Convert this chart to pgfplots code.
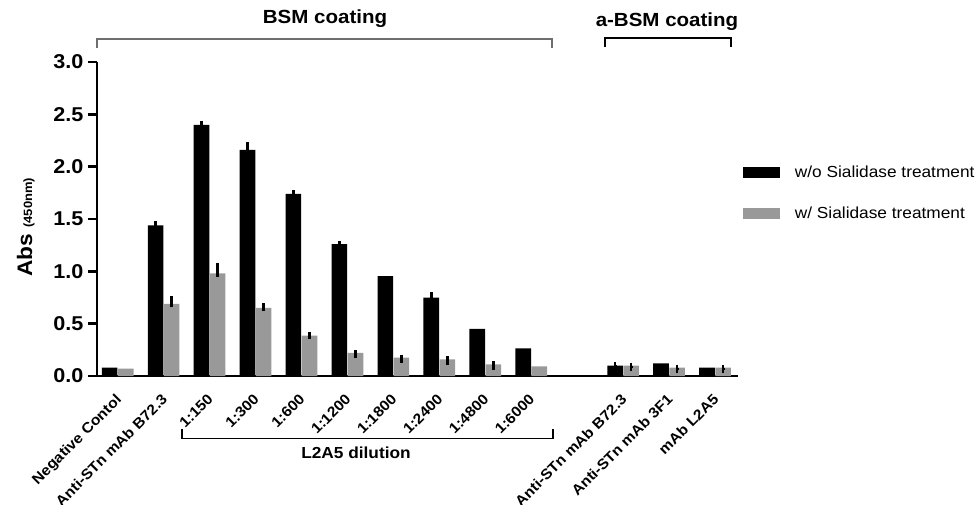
\documentclass[border=0pt]{standalone}
\usepackage{fontspec}
\setmainfont{Liberation Sans}[FakeStretch=1.08]
\usepackage{pgfplots}
\pgfplotsset{compat=1.18}
\usepackage{pgfplotstable}
\definecolor{bargrey}{RGB}{153,153,153}
\definecolor{brgrey}{RGB}{110,110,110}

\pgfplotstableread{
x  b     g
0  0.080 0.070
1  1.440 0.690
2  2.400 0.980
3  2.160 0.650
4  1.740 0.385
5  1.260 0.220
6  0.955 0.175
7  0.750 0.160
8  0.450 0.110
9  0.265 0.093
11 0.100 0.100
12 0.120 0.080
13 0.080 0.080
}\means

\pgfplotstableread{
x  y     ep    em
1  1.440 0.008 0.01
2  2.400 0.010 0.01
3  2.160 0.050 0.01
4  1.740 0.005 0.01
5  1.260 0.005 0.01
7  0.750 0.020 0.01
11 0.100 0.005 0.01
}\berr

\pgfplotstableread{
x  y     ep    em
1  0.690 0.045 0.005
2  0.980 0.075 0.005
3  0.650 0.018 0.005
4  0.385 0.010 0.005
5  0.220 0.000 0.022
6  0.175 0.000 0.022
7  0.160 0.000 0.022
8  0.110 0.000 0.022
11 0.100 0.000 0.022
12 0.080 0.000 0.022
13 0.080 0.000 0.022
}\gerr

\begin{document}
\begin{tikzpicture}
\useasboundingbox (0pt,0pt) rectangle (975pt,504pt);
\begin{axis}[
  at={(97pt,128pt)}, anchor=south west,
  scale only axis, width=641pt, height=314pt,
  xmin=-0.45, xmax=13.5, ymin=0, ymax=3,
  axis x line=bottom, axis y line=left,
  axis line style={-, line width=2.6pt, black},
  xtick={0,1,2,3,4,5,6,7,8,9,11,12,13},
  xticklabels={Negative Contol, Anti-STn mAb B72.3, 1:150, 1:300, 1:600, 1:1200, 1:1800, 1:2400, 1:4800, 1:6000, Anti-STn mAb B72.3, Anti-STn mAb 3F1, mAb L2A5},
  x tick style={draw=none},
  ytick={0,0.5,1,1.5,2,2.5,3},
  y tick style={line width=2.5pt, black},
  major tick length=9pt, ytick align=outside, xtick align=inside,
  /pgf/number format/assume math mode=true,
  yticklabel style={font=\fontsize{20}{20}\selectfont\bfseries, inner sep=4.5pt, /pgf/number format/.cd, fixed, fixed zerofill, precision=1},
  xticklabel shift=17pt,
  xticklabel style={font=\fontsize{14.5}{14.5}\selectfont\bfseries, inner sep=0pt, xshift=-3pt, rotate=45, anchor=north east},
  clip=false,
  legend style={at={(1.0073,0.67)}, anchor=north west, draw=none, fill=none, inner sep=0pt,
    font=\fontsize{16}{16}\selectfont, row sep=28pt, column sep=15pt, nodes={inner sep=0pt, anchor=west}},
  legend cell align=left,
]
\addplot[ybar, bar width=0.34, bar shift=-0.175, fill=black, draw=none,
  legend image code/.code={\fill[black] (0pt,-5.5pt) rectangle (37pt,5.5pt);}]
  table[x=x, y=b] {\means};
\addlegendentry{w/o Sialidase treatment}
\addplot[ybar, bar width=0.34, bar shift=0.175, fill=bargrey, draw=none,
  legend image code/.code={\fill[bargrey] (0pt,-5.5pt) rectangle (37pt,5.5pt);}]
  table[x=x, y=g] {\means};
\addlegendentry{w/ Sialidase treatment}
\addplot[draw=none, mark=none, forget plot,
  error bars/.cd, y dir=both, y explicit,
  error bar style={draw=black, line width=3pt, solid},
  error mark options={draw=black, line width=2.5pt, mark size=3pt}]
  table[x expr=\thisrow{x}-0.175, y=y, y error plus=ep, y error minus=em] {\berr};
\addplot[draw=none, mark=none, forget plot,
  error bars/.cd, y dir=both, y explicit,
  error bar style={draw=black, line width=3pt, solid},
  error mark options={draw=black, line width=2.5pt, mark size=3pt}]
  table[x expr=\thisrow{x}+0.175, y=y, y error plus=ep, y error minus=em] {\gerr};
\end{axis}
\node[font=\fontsize{19}{19}\selectfont\bfseries] at (325pt,485pt) {BSM coating};
\draw[line width=1.5pt, brgrey] (97pt,456pt) -- (97pt,465pt) -- (552pt,465pt) -- (552pt,456pt);
\node[font=\fontsize{19}{19}\selectfont\bfseries] at (667pt,482pt) {a-BSM coating};
\draw[line width=2pt, black] (605pt,457pt) -- (605pt,466.3pt) -- (731pt,466.3pt) -- (731pt,457pt);
\draw[line width=1.6pt, black] (181.7pt,75pt) -- (181.7pt,65.7pt) -- (552.7pt,65.7pt) -- (552.7pt,75pt);
\node[font=\fontsize{16}{16}\selectfont\bfseries] at (356pt,51pt) {L2A5 dilution};
\node[rotate=90, anchor=base west, inner sep=0pt, font=\fontsize{21}{21}\selectfont\bfseries] at (32pt,227pt) {Abs {\fontsize{12}{12}\selectfont(450nm)}};
\end{tikzpicture}
\end{document}
